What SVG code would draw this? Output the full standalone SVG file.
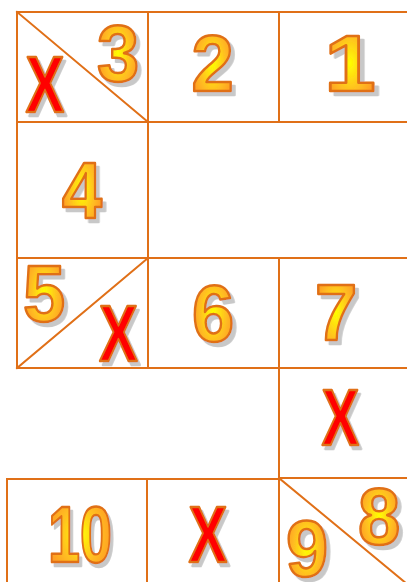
<svg xmlns="http://www.w3.org/2000/svg" width="407" height="582" viewBox="0 0 407 582">
<defs>
<radialGradient id="gold" cx="0.5" cy="0.5" r="0.6">
<stop offset="0" stop-color="#ffff00"/>
<stop offset="0.5" stop-color="#ffc020"/>
<stop offset="1" stop-color="#ff8c28"/>
</radialGradient>
<filter id="shadow" x="-20%" y="-20%" width="150%" height="150%">
<feDropShadow dx="4" dy="4" stdDeviation="0.6" flood-color="#c8c8c8" flood-opacity="1"/>
</filter>
</defs>
<style>
.ln{stroke:#e07018;stroke-width:2;fill:none;stroke-linecap:square}
.t{font-family:"Liberation Sans",Arial,sans-serif;font-weight:bold;font-size:80px;text-anchor:middle;stroke:#e07018;stroke-width:2.5;stroke-linejoin:round;filter:url(#shadow)}
.num{fill:url(#gold)}
.x{fill:#ff0000}
</style>
<rect width="407" height="582" fill="#ffffff"/>
<g id="grid">
<path class="ln" d="M17 12H407M17 122H407M17 258H407M17 368H407M279 478H407M7 479H279"/>
<path class="ln" d="M17 12V368M148 12V368M279 12V122M279 258V582M7 479V582M147 479V582"/>
<path class="ln" d="M17 12L148 122M17 368L148 258M279 478L407 584"/>
</g>
<g id="cell-3">
<g transform="translate(45,112) scale(0.72,1)"><text class="t x">X</text></g>
<g transform="translate(118,81) scale(0.95,1)"><text class="t num">3</text></g>
</g>
<g id="cell-2">
<g transform="translate(212.5,91) scale(0.95,1)"><text class="t num">2</text></g>
</g>
<g id="cell-1">
<g transform="translate(350,91) scale(1.15,1)"><text class="t num">1</text></g>
</g>
<g id="cell-4">
<g transform="translate(82,218) scale(0.9,1)"><text class="t num">4</text></g>
</g>
<g id="cell-5">
<g transform="translate(44,321) scale(0.95,1)"><text class="t num">5</text></g>
<g transform="translate(118.5,361) scale(0.72,1)"><text class="t x">X</text></g>
</g>
<g id="cell-6">
<g transform="translate(213,341) scale(0.95,1)"><text class="t num">6</text></g>
</g>
<g id="cell-7">
<g transform="translate(336,340) scale(0.95,1)"><text class="t num">7</text></g>
</g>
<g id="cell-x4">
<g transform="translate(340.5,445) scale(0.7,1)"><text class="t x">X</text></g>
</g>
<g id="cell-10">
<g transform="translate(80,562) scale(0.72,1)"><text class="t num">10</text></g>
</g>
<g id="cell-x5">
<g transform="translate(208,562) scale(0.72,1)"><text class="t x">X</text></g>
</g>
<g id="cell-9-8">
<g transform="translate(307,576) scale(0.95,1)"><text class="t num">9</text></g>
<g transform="translate(379,544) scale(0.95,1)"><text class="t num">8</text></g>
</g>
</svg>
